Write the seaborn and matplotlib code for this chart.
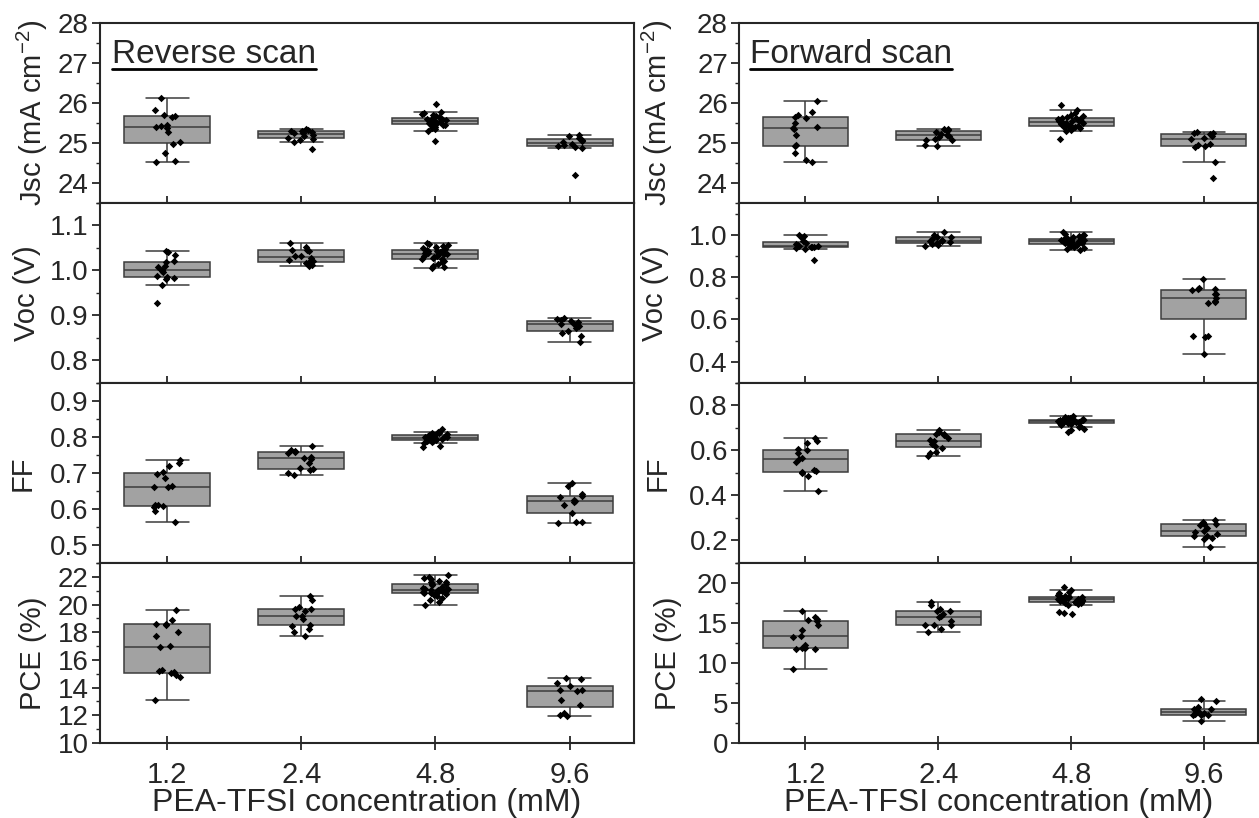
import numpy as np
import pandas as pd
import seaborn as sns
import matplotlib.pyplot as plt
from matplotlib.lines import Line2D
from matplotlib.ticker import MultipleLocator

# PEA-TFSI concentrations (mM), one box per concentration
concs = ["1.2", "2.4", "4.8", "9.6"]

# Reverse scan device data, one list per concentration
rev_jsc = [
    [24.53, 24.55, 24.75, 24.98, 25.02, 25.27, 25.38, 25.41, 25.42, 25.46, 25.66, 25.68, 25.70, 25.82, 26.12],
    [24.84, 25.03, 25.08, 25.11, 25.13, 25.18, 25.20, 25.24, 25.25, 25.27, 25.30, 25.31, 25.33, 25.35],
    [25.05, 25.30, 25.34, 25.37, 25.40, 25.42, 25.45, 25.46, 25.48, 25.49, 25.50, 25.51, 25.52, 25.53, 25.54,
     25.55, 25.56, 25.57, 25.58, 25.60, 25.61, 25.62, 25.63, 25.65, 25.67, 25.70, 25.72, 25.74, 25.77, 25.97],
    [24.20, 24.88, 24.90, 24.93, 24.95, 24.98, 25.02, 25.05, 25.08, 25.12, 25.18, 25.21],
]
rev_voc = [
    [0.928, 0.968, 0.982, 0.984, 0.985, 0.988, 0.996, 0.999, 1.001, 1.008, 1.010, 1.019, 1.022, 1.035, 1.042, 1.044],
    [1.010, 1.012, 1.016, 1.019, 1.020, 1.024, 1.028, 1.031, 1.033, 1.043, 1.045, 1.046, 1.052, 1.062],
    [1.005, 1.008, 1.010, 1.015, 1.018, 1.022, 1.025, 1.026, 1.028, 1.030, 1.032, 1.033, 1.035, 1.036, 1.037,
     1.038, 1.039, 1.040, 1.042, 1.043, 1.044, 1.045, 1.046, 1.048, 1.050, 1.053, 1.055, 1.056, 1.058, 1.061],
    [0.842, 0.855, 0.862, 0.866, 0.872, 0.877, 0.880, 0.882, 0.885, 0.887, 0.889, 0.892, 0.895],
]
rev_ff = [
    [0.564, 0.594, 0.605, 0.608, 0.610, 0.612, 0.660, 0.662, 0.665, 0.686, 0.697, 0.703, 0.720, 0.728, 0.736],
    [0.694, 0.700, 0.708, 0.711, 0.715, 0.728, 0.740, 0.742, 0.745, 0.755, 0.758, 0.760, 0.765, 0.774],
    [0.773, 0.774, 0.783, 0.785, 0.788, 0.790, 0.792, 0.793, 0.794, 0.795, 0.796, 0.797, 0.797, 0.798,
     0.798, 0.799, 0.800, 0.801, 0.802, 0.803, 0.804, 0.805, 0.806, 0.808, 0.810, 0.812, 0.813, 0.823],
    [0.562, 0.563, 0.565, 0.588, 0.612, 0.618, 0.623, 0.625, 0.632, 0.637, 0.641, 0.665, 0.672],
]
rev_pce = [
    [13.08, 14.75, 14.9, 15.05, 15.1, 15.2, 15.25, 16.92, 17.0, 17.75, 18.05, 18.55, 18.6, 18.62, 18.85, 19.57],
    [17.76, 18.0, 18.2, 18.48, 18.5, 18.95, 19.15, 19.2, 19.55, 19.65, 19.7, 19.85, 20.35, 20.65],
    [20.0, 20.2, 20.3, 20.5, 20.6, 20.7, 20.75, 20.8, 20.82, 20.85, 20.9, 20.95, 21.0, 21.02, 21.03,
     21.05, 21.1, 21.15, 21.2, 21.3, 21.4, 21.48, 21.5, 21.6, 21.65, 21.7, 21.85, 21.95, 22.0, 22.1],
    [11.93, 12.0, 12.15, 12.75, 13.1, 13.72, 13.8, 13.85, 14.1, 14.3, 14.6, 14.67],
]

# Forward scan device data
fwd_jsc = [
    [24.52, 24.57, 24.75, 24.92, 24.95, 25.2, 25.35, 25.38, 25.4, 25.5, 25.62, 25.66, 25.7, 25.77, 26.05],
    [24.93, 24.96, 25.07, 25.08, 25.10, 25.15, 25.18, 25.20, 25.22, 25.27, 25.30, 25.32, 25.34, 25.36],
    [25.10, 25.30, 25.33, 25.36, 25.38, 25.40, 25.41, 25.42, 25.43, 25.45, 25.46, 25.48, 25.49, 25.50, 25.51,
     25.53, 25.54, 25.55, 25.56, 25.58, 25.59, 25.60, 25.62, 25.63, 25.65, 25.67, 25.70, 25.75, 25.82, 25.94],
    [24.13, 24.52, 24.90, 24.92, 24.95, 24.98, 25.09, 25.12, 25.18, 25.22, 25.25, 25.26, 25.28],
]
fwd_voc = [
    [0.880, 0.931, 0.935, 0.940, 0.944, 0.944, 0.945, 0.945, 0.950, 0.958, 0.962, 0.970, 0.985, 0.995, 1.000],
    [0.945, 0.950, 0.958, 0.959, 0.965, 0.968, 0.972, 0.975, 0.980, 0.989, 0.990, 1.000, 1.015],
    [0.930, 0.933, 0.936, 0.940, 0.945, 0.950, 0.955, 0.957, 0.960, 0.962, 0.964, 0.965, 0.967, 0.969, 0.970,
     0.973, 0.974, 0.975, 0.976, 0.977, 0.979, 0.980, 0.982, 0.985, 0.990, 0.993, 0.997, 1.000, 1.005, 1.011],
    [0.436, 0.515, 0.520, 0.522, 0.678, 0.680, 0.685, 0.703, 0.718, 0.722, 0.738, 0.744, 0.745, 0.748, 0.790],
]
fwd_ff = [
    [0.421, 0.485, 0.500, 0.503, 0.507, 0.515, 0.550, 0.560, 0.565, 0.588, 0.600, 0.606, 0.632, 0.640, 0.655],
    [0.576, 0.590, 0.595, 0.612, 0.618, 0.628, 0.640, 0.648, 0.655, 0.670, 0.672, 0.675, 0.680, 0.690],
    [0.683, 0.690, 0.695, 0.705, 0.710, 0.714, 0.718, 0.720, 0.722, 0.723, 0.724, 0.725, 0.726, 0.727, 0.728,
     0.730, 0.731, 0.732, 0.733, 0.734, 0.735, 0.736, 0.737, 0.738, 0.740, 0.742, 0.744, 0.746, 0.750, 0.753],
    [0.169, 0.208, 0.210, 0.218, 0.222, 0.230, 0.238, 0.244, 0.255, 0.268, 0.272, 0.275, 0.280, 0.290],
]
fwd_pce = [
    [9.25, 11.75, 11.8, 11.82, 11.85, 12.3, 13.3, 13.42, 14.1, 14.75, 15.25, 15.32, 15.5, 15.75, 16.5],
    [13.88, 14.2, 14.7, 14.75, 14.8, 15.2, 15.7, 15.88, 16.1, 16.45, 16.52, 16.7, 17.2, 17.67],
    [16.15, 16.3, 16.4, 17.21, 17.35, 17.45, 17.55, 17.62, 17.65, 17.7, 17.75, 17.8, 17.85, 17.9, 17.95,
     17.98, 18.0, 18.05, 18.1, 18.12, 18.18, 18.24, 18.26, 18.3, 18.4, 18.5, 18.7, 18.9, 19.13, 19.45],
    [2.7, 3.5, 3.52, 3.54, 3.6, 3.75, 3.92, 4.0, 4.2, 4.25, 4.5, 5.29, 5.45],
]

ylabels = ["Jsc (mA cm$^{-2}$)", "Voc (V)", "FF", "PCE (%)"]


def to_long(groups):
    rows = []
    for c, vals in zip(concs, groups):
        for v in vals:
            rows.append({"conc": c, "val": v})
    return pd.DataFrame(rows)


sns.set_style("ticks")
plt.rcParams["font.family"] = ["Liberation Sans", "DejaVu Sans"]
plt.rcParams["mathtext.fontset"] = "custom"
plt.rcParams["mathtext.rm"] = "Liberation Sans"
plt.rcParams["mathtext.it"] = "Liberation Sans:italic"
np.random.seed(7)

fig = plt.figure(figsize=(12.59, 8.18), dpi=100)
gs_left = fig.add_gridspec(4, 1, left=0.0794, right=0.5036, top=0.972, bottom=0.0917, hspace=0)
gs_right = fig.add_gridspec(4, 1, left=0.587, right=0.9995, top=0.972, bottom=0.0917, hspace=0)

# label x positions (axes coords) per panel, like the original where each label sits on its own
columns = [
    (gs_left, [rev_jsc, rev_voc, rev_ff, rev_pce], "Reverse scan", [-0.094, -0.11, -0.118, -0.1],
     (-0.5, 3.48),
     [((23.5, 28), 1, 0.5), ((0.75, 1.15), 0.1, 0.05), ((0.45, 0.95), 0.1, 0.05), ((10, 23), 2, 1)]),
    (gs_right, [fwd_jsc, fwd_voc, fwd_ff, fwd_pce], "Forward scan", [-0.124, -0.134, -0.13, -0.11],
     (-0.5, 3.41),
     [((23.5, 28), 1, 0.5), ((0.3, 1.15), 0.2, 0.1), ((0.1, 0.9), 0.2, 0.1), ((0, 22.5), 5, 2.5)]),
]

titles = []
for gs, panels, title, lab_x, xlim, yset in columns:
    for i, groups in enumerate(panels):
        ax = fig.add_subplot(gs[i])
        df = to_long(groups)
        sns.boxplot(data=df, x="conc", y="val", order=concs, color="#a2a2a2", saturation=1,
                    width=0.64, showfliers=False, linewidth=1.1, linecolor="#3c3c3c",
                    whis=1.5, ax=ax)
        sns.stripplot(data=df, x="conc", y="val", order=concs, color="black", marker="D",
                      size=3.8, jitter=0.1, ax=ax)
        (lo, hi), major, minor = yset[i]
        ax.set_ylim(lo, hi)
        ax.set_xlim(*xlim)
        ax.yaxis.set_major_locator(MultipleLocator(major))
        ax.yaxis.set_minor_locator(MultipleLocator(minor))
        ax.set_ylabel(ylabels[i], fontsize=21)
        ax.yaxis.set_label_coords(lab_x[i], 0.5)
        ax.tick_params(axis="y", direction="out", length=6, width=1.3, labelsize=20, pad=2)
        ax.tick_params(axis="y", which="minor", direction="out", length=3, width=1.0)
        ax.tick_params(axis="x", direction="inout", length=10, width=1.3, labelsize=21, pad=8)
        for s in ax.spines.values():
            s.set_linewidth(1.5)
            s.set_visible(True)
        if i < 3:
            ax.set_xlabel("")
            ax.tick_params(axis="x", labelbottom=False)
        else:
            ax.set_xlabel("PEA-TFSI concentration (mM)", fontsize=23, labelpad=-1)
        if i == 0:
            t = ax.text(0.022, 0.78, title, transform=ax.transAxes, fontsize=24, va="baseline")
            titles.append(t)

# underline the scan titles
fig.canvas.draw()
renderer = fig.canvas.get_renderer()
W, H = fig.bbox.width, fig.bbox.height
for t in titles:
    bb = t.get_window_extent(renderer)
    y = (bb.y0 + 1) / H
    fig.add_artist(Line2D([bb.x0 / W, bb.x1 / W], [y, y], color="black", linewidth=2))

fig.savefig("out.png", dpi=100)
